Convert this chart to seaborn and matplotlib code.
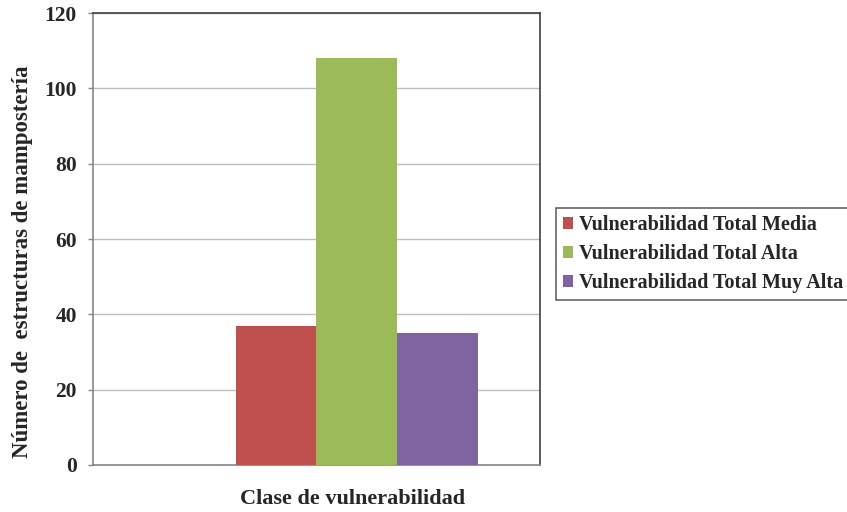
import matplotlib
matplotlib.use("Agg")
import matplotlib.pyplot as plt
import seaborn as sns
import pandas as pd
from matplotlib.patches import Patch

sns.set_theme(style="white")
plt.rcParams['font.family'] = ['Liberation Serif', 'DejaVu Serif']
plt.rcParams['font.weight'] = 'bold'

categories = ["Clase de vulnerabilidad"]
series = ["Vulnerabilidad Total Baja", "Vulnerabilidad Total Media",
          "Vulnerabilidad Total Alta", "Vulnerabilidad Total Muy Alta"]
values = [0, 37, 108, 35]
colors = ["#4F81BD", "#C0504D", "#9BBB59", "#8064A2"]
legend_series = series[1:]
yticks = [0, 20, 40, 60, 80, 100, 120]

df = pd.DataFrame({"clase": categories * len(series), "serie": series, "valor": values})

fig = plt.figure(figsize=(8.47, 5.12), dpi=100)
ax = fig.add_axes([0.1098, 0.0918, 0.5277, 0.8828])

sns.barplot(data=df, x="clase", y="valor", hue="serie", hue_order=series,
            palette=dict(zip(series, colors)), width=0.724, ax=ax, saturation=1,
            edgecolor="none", linewidth=0, legend=False, zorder=3)

ax.set_xlim(-0.5, 0.5)
ax.set_ylim(0, 120)
ax.set_yticks(yticks)
ax.set_yticklabels([str(t) for t in yticks], fontsize=15.5, fontweight='bold')
ax.set_xticks([])
ax.set_xlabel("Clase de vulnerabilidad", fontsize=16, fontweight='bold')
ax.set_ylabel("Número de  estructuras de mampostería", fontsize=16.5, fontweight='bold')
ax.xaxis.set_label_coords((353 - 93) / 447, (466 - 490) / 453)
ax.yaxis.set_label_coords((33 - 93) / 447, (466 - 262) / 453)
ax.yaxis.grid(True, color="#BFBFBF", linewidth=1, zorder=0)
ax.set_axisbelow(True)
ax.tick_params(axis='y', which='both', left=True, length=3.6, width=1, color="#868686", pad=8)

for side in ["left", "bottom"]:
    ax.spines[side].set_color("#868686")
    ax.spines[side].set_linewidth(1.2)
for side in ["top", "right"]:
    ax.spines[side].set_color("#404040")
    ax.spines[side].set_linewidth(1.2)

handles = [Patch(facecolor=c, edgecolor="none") for c in colors[1:]]
leg = fig.legend(handles, legend_series, loc="center left",
                 bbox_to_anchor=(556/847, 1 - 254/512), bbox_transform=fig.transFigure,
                 frameon=True, fancybox=False, handlelength=0.5,
                 handleheight=0.5, handletextpad=0.3, labelspacing=0.45,
                 borderpad=0.35, borderaxespad=0, prop={'weight': 'bold', 'size': 14.5})
leg.get_frame().set_edgecolor("#404040")
leg.get_frame().set_linewidth(1.2)

fig.savefig("out.png", dpi=100)
